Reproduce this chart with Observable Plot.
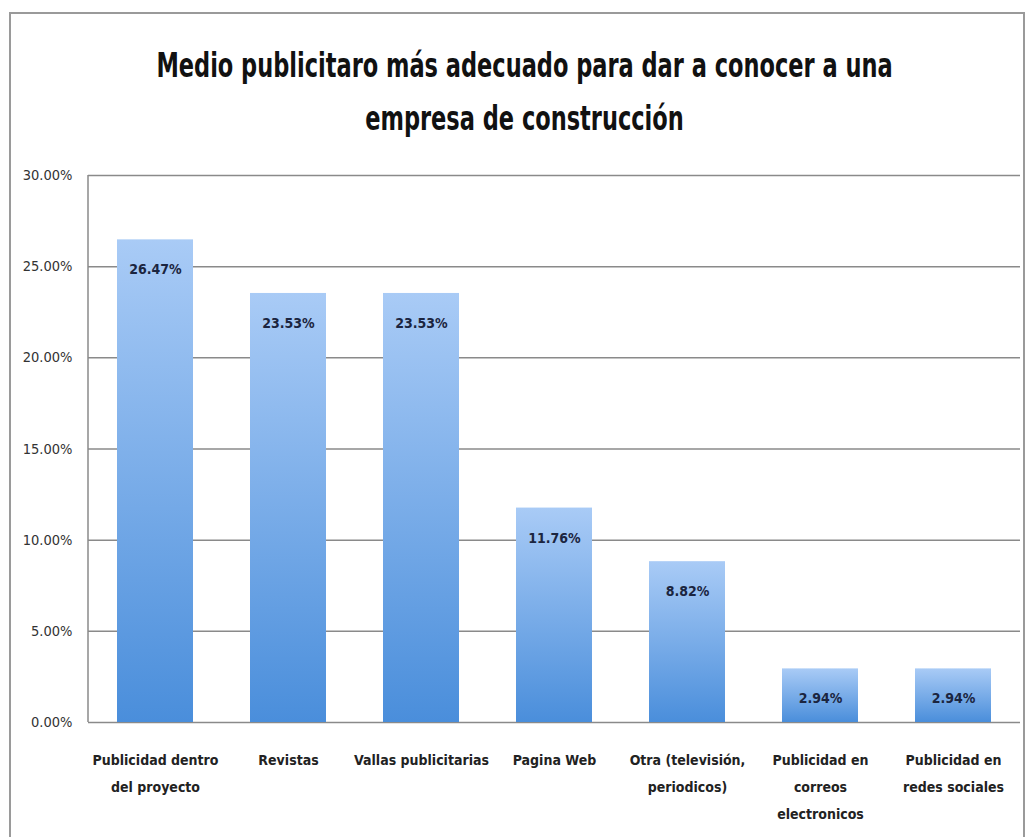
<!DOCTYPE html>
<html>
<head>
<meta charset="utf-8">
<script src="https://cdn.jsdelivr.net/npm/d3@7"></script>
<script src="https://cdn.jsdelivr.net/npm/@observablehq/plot@0.6"></script>
<style>
  html, body { margin: 0; padding: 0; background: #fff; width: 1029px; height: 837px; overflow: hidden; }
  #wrap { position: relative; width: 1029px; height: 837px; }
  #border { position: absolute; left: 9px; top: 12px; width: 1016px; height: 900px; border: 2px solid #9a9a9a; box-sizing: border-box; }
  #title { position: absolute; left: 0; top: 39px; width: 1049px; text-align: center; white-space: nowrap;
    font-family: "DejaVu Sans Condensed", sans-serif; font-weight: bold;
    font-size: 34px; line-height: 53px; color: #111;
    transform: scaleX(0.735); transform-origin: 50% 50%; }
  #chart { position: absolute; left: 0; top: 0; }
</style>
</head>
<body>
<div id="wrap">
  <div id="border"></div>
  <div id="title">Medio publicitaro más adecuado para dar a conocer a una<br>empresa de construcción</div>
  <div id="chart"></div>
</div>
<script>
const categories = [
  "Publicidad dentro\ndel proyecto",
  "Revistas",
  "Vallas publicitarias",
  "Pagina Web",
  "Otra (televisión,\nperiodicos)",
  "Publicidad en\ncorreos\nelectronicos",
  "Publicidad en\nredes sociales"
];
const values = [26.47, 23.53, 23.53, 11.76, 8.82, 2.94, 2.94];
const yTicks = [0, 5, 10, 15, 20, 25, 30];

const data = categories.map((c, i) => ({category: c, value: values[i]}));
const FONT = '"DejaVu Sans Condensed", sans-serif';

const gradientDefs = () => {
  const defs = d3.create("svg:defs");
  const g = defs.append("linearGradient").attr("id", "barGrad")
    .attr("x1", 0).attr("y1", 0).attr("x2", 0).attr("y2", 1);
  g.append("stop").attr("offset", "0%").attr("stop-color", "#a9cbf6");
  g.append("stop").attr("offset", "100%").attr("stop-color", "#4a8edb");
  return defs.node();
};

const leftAxisLine = (index, scales, values, dimensions) => {
  const {marginLeft, marginTop, height, marginBottom} = dimensions;
  const line = d3.create("svg:line")
    .attr("x1", marginLeft).attr("x2", marginLeft)
    .attr("y1", marginTop).attr("y2", height - marginBottom)
    .attr("stroke", "#8a8a8a").attr("stroke-width", 1.5);
  return line.node();
};

const chart = Plot.plot({
  width: 1029,
  height: 837,
  marginLeft: 88,
  marginRight: 9,
  marginTop: 175,
  marginBottom: 115,
  style: {fontFamily: FONT, background: "transparent"},
  x: {domain: categories, paddingInner: 0.43, paddingOuter: 0.215, label: null},
  y: {domain: [0, 30], label: null},
  marks: [
    gradientDefs,
    Plot.ruleY(yTicks, {stroke: "#8a8a8a", strokeWidth: 1.5}),
    leftAxisLine,
    Plot.barY(data, {x: "category", y: "value", fill: "url(#barGrad)"}),
    Plot.text(data, {x: "category", y: "value", text: d => d.value.toFixed(2) + "%", dy: 30,
      fontWeight: "bold", fontSize: 14, fill: "#1b2540"}),
    Plot.axisY(yTicks, {tickSize: 0, tickPadding: 16, tickFormat: d => d.toFixed(2) + "%",
      fontSize: 14.5, fill: "#333", label: null}),
    Plot.axisX({tickSize: 0, tickPadding: 24, fontSize: 14, fontWeight: "bold", fill: "#222",
      lineHeight: 1.9, label: null})
  ]
});
document.getElementById("chart").appendChild(chart);
</script>
</body>
</html>
